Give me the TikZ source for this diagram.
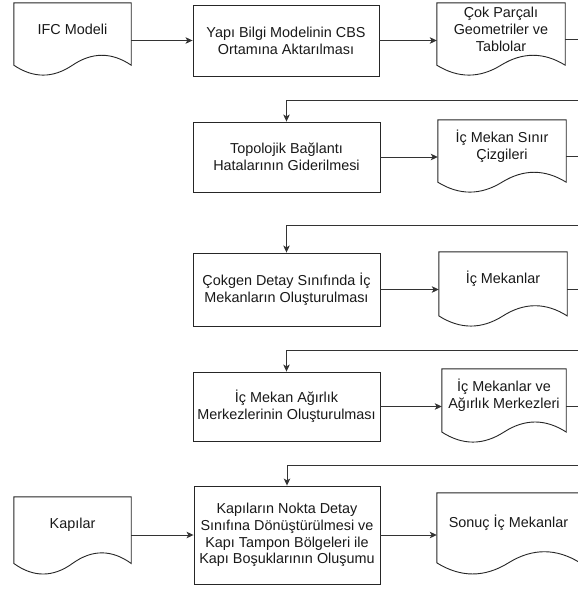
\documentclass[tikz,border=0pt]{standalone}
\usepackage{fontspec}
\setmainfont{Liberation Sans}
\usetikzlibrary{arrows.meta,calc}

\tikzset{
  ink/.style={draw=black!85, line width=0.9pt},
  proc/.style={ink, fill=white, inner sep=0pt, align=center, text=black!90,
    font=\fontsize{14.4}{16.7}\selectfont},
  docframe/.style={draw=none, inner sep=0pt},
  doctext/.style={inner sep=0pt, align=center, text=black!90,
    font=\fontsize{14.4}{16.7}\selectfont},
  conn/.style={draw=black!80, line width=0.9pt,
    -{Stealth[length=7pt,width=6.5pt,inset=1.8pt]}},
}

% wavy-bottomed document outline drawn over a rectangular frame node
\newcommand\docoutline[1]{%
  \draw[ink, fill=white] let \p1=(#1.north west), \p2=(#1.south east),
      \n1={\x2-\x1}, \n2={\y1-\y2} in
    (\p1) -- (\x2,\y1) -- (\x2,\y1-0.85*\n2)
    .. controls (\x1+0.8333*\n1,\y1-0.67*\n2) and (\x1+0.6667*\n1,\y1-0.67*\n2)
    .. (\x1+0.5*\n1,\y1-0.85*\n2)
    .. controls (\x1+0.3333*\n1,\y1-1.03*\n2) and (\x1+0.1667*\n1,\y1-1.03*\n2)
    .. (\x1,\y1-0.85*\n2) -- cycle;}

\begin{document}
\begin{tikzpicture}[x=1pt, y=-1pt]
\useasboundingbox (0,0) rectangle (578,590);
\fill[white] (0,0) rectangle (578,590);
\clip (0,0) rectangle (578,590);

% document frames
\node[docframe, minimum width=117, minimum height=73] (ifc)     at (72.5,39.5) {};
\node[docframe, minimum width=128, minimum height=73] (cok)     at (501,39.5)  {};
\node[docframe, minimum width=128, minimum height=73] (sinir)   at (502,156.5) {};
\node[docframe, minimum width=128, minimum height=75] (mekan)   at (503,289.5) {};
\node[docframe, minimum width=124, minimum height=74] (agirlik) at (504,406)   {};
\node[docframe, minimum width=117, minimum height=78] (kapi)    at (72.5,536)  {};
\node[docframe, minimum width=143, minimum height=82] (sonuc)   at (508.5,534) {};

\docoutline{ifc}
\docoutline{cok}
\docoutline{sinir}
\docoutline{mekan}
\docoutline{agirlik}
\docoutline{kapi}
\docoutline{sonuc}

% document labels
\node[doctext] (ifc-t)     at ($(ifc.north)!0.36!(ifc.south)$)         {IFC Modeli};
\node[doctext] (cok-t)     at ($(cok.north)!0.36!(cok.south)$)         {Çok Parçalı\\Geometriler ve\\Tablolar};
\node[doctext] (sinir-t)   at ($(sinir.north)!0.36!(sinir.south)$)     {İç Mekan Sınır\\Çizgileri};
\node[doctext] (mekan-t)   at ($(mekan.north)!0.36!(mekan.south)$)     {İç Mekanlar};
\node[doctext] (agirlik-t) at ($(agirlik.north)!0.36!(agirlik.south)$) {İç Mekanlar ve\\Ağırlık Merkezleri};
\node[doctext] (kapi-t)    at ($(kapi.north)!0.36!(kapi.south)$)       {Kapılar};
\node[doctext] (sonuc-t)   at ($(sonuc.north)!0.36!(sonuc.south)$)     {Sonuç İç Mekanlar};

% process steps
\node[proc, minimum width=186, minimum height=71] (b1) at (286,40.5)
  {Yapı Bilgi Modelinin CBS\\Ortamına Aktarılması};
\node[proc, minimum width=187, minimum height=70] (b2) at (286.5,157)
  {Topolojik Bağlantı\\Hatalarının Giderilmesi};
\node[proc, minimum width=187, minimum height=73] (b3) at (286.5,289.5)
  {Çokgen Detay Sınıfında İç\\Mekanların Oluşturulması};
\node[proc, minimum width=187, minimum height=69] (b4) at (286.5,406.5)
  {İç Mekan Ağırlık\\Merkezlerinin Oluşturulması};
\node[proc, minimum width=186, minimum height=98] (b5) at (287,535)
  {Kapıların Nokta Detay\\Sınıfına Dönüştürülmesi ve\\Kapı Tampon Bölgeleri ile\\Kapı Boşuklarının Oluşumu};

% return points beyond the right edge
\coordinate (r1) at (600,100);
\coordinate (r2) at (600,225);
\coordinate (r3) at (600,350);
\coordinate (r4) at (600,465);

% connectors
\draw[conn] (b1.west -| ifc.east) -- (b1.west);
\draw[conn] (b1.east) -- (b1.east -| cok.west);
\draw[conn] (cok.east) -| (r1) -| (b2.north);
\draw[conn] (b2.east) -- (b2.east -| sinir.west);
\draw[conn] (sinir.east) -| (r2) -| (b3.north);
\draw[conn] (b3.east) -- (b3.east -| mekan.west);
\draw[conn] (mekan.east) -| (r3) -| (b4.north);
\draw[conn] (b4.east) -- (b4.east -| agirlik.west);
\draw[conn] (agirlik.east) -| (r4) -| (b5.north);
\draw[conn] (b5.west -| kapi.east) -- (b5.west);
\draw[conn] (b5.east) -- (b5.east -| sonuc.west);
\end{tikzpicture}
\end{document}
